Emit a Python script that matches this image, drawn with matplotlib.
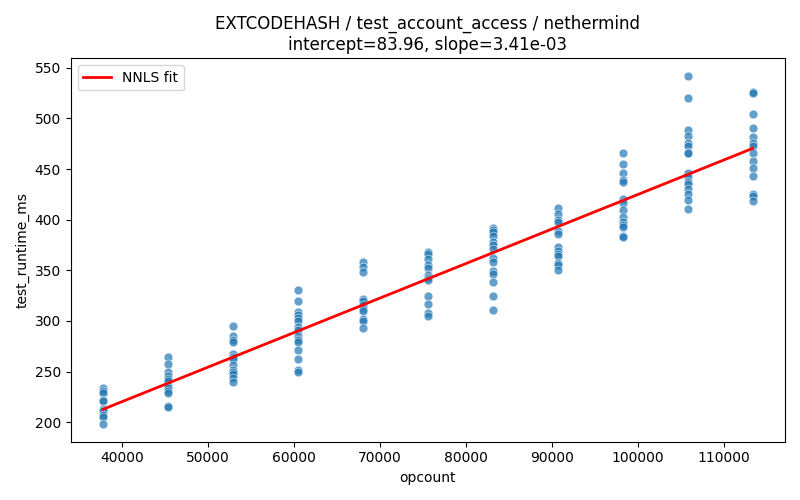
import matplotlib
matplotlib.use("Agg")
import matplotlib.pyplot as plt
import seaborn as sns
import numpy as np
import pandas as pd

opcounts = [37800, 45350, 52900, 60450, 68000, 75550, 83100, 90650, 98200, 105750, 113300]
runtimes = [
    [234, 231, 229, 222, 221, 213, 211, 207, 205, 198],
    [264, 258, 250, 246, 243, 241, 236, 234, 231, 229, 216, 215],
    [295, 285, 281, 279, 267, 264, 262, 257, 252, 250, 248, 244, 240],
    [331, 320, 309, 306, 303, 300, 294, 291, 285, 281, 279, 271, 262, 252, 250],
    [358, 353, 348, 322, 320, 316, 312, 310, 302, 300, 293],
    [368, 366, 361, 355, 352, 345, 342, 340, 325, 317, 308, 305],
    [392, 390, 388, 384, 378, 375, 371, 362, 358, 349, 346, 338, 325, 311],
    [412, 406, 400, 398, 389, 386, 373, 369, 366, 364, 357, 355, 350],
    [466, 455, 446, 439, 437, 420, 416, 410, 403, 398, 395, 393, 384, 383],
    [542, 520, 489, 483, 476, 473, 466, 466, 446, 442, 437, 435, 430, 425, 419, 411],
    [526, 525, 504, 490, 482, 476, 473, 466, 458, 451, 443, 425, 423, 418],
]
intercept = 83.96
slope = 3.41e-03

xs, ys = [], []
for x, col in zip(opcounts, runtimes):
    for y in col:
        xs.append(x)
        ys.append(y)
df = pd.DataFrame({"opcount": xs, "test_runtime_ms": ys})

fig, ax = plt.subplots(figsize=(8, 5), dpi=100)
sns.scatterplot(data=df, x="opcount", y="test_runtime_ms", ax=ax, alpha=0.7, s=40)
xline = np.array([min(opcounts), max(opcounts)])
ax.plot(xline, intercept + slope * xline, color="red", linewidth=2, label="NNLS fit")
ax.legend(loc="upper left")
ax.set_title(f"EXTCODEHASH / test_account_access / nethermind\nintercept={intercept:.2f}, slope={slope:.2e}")
ax.set_xlabel("opcount")
ax.set_ylabel("test_runtime_ms")
fig.tight_layout()
fig.savefig("out.png")
